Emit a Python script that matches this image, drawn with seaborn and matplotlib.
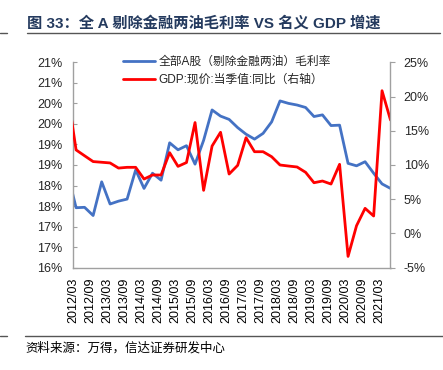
import matplotlib
matplotlib.use("Agg")
import matplotlib.pyplot as plt
import matplotlib.dates as mdates
from matplotlib.lines import Line2D
from matplotlib.ticker import FuncFormatter, FixedLocator
import numpy as np
import pandas as pd
import seaborn as sns

# ---------------- data ----------------
quarters = ["2011-12-31",
            "2012-03-31", "2012-06-30", "2012-09-30", "2012-12-31",
            "2013-03-31", "2013-06-30", "2013-09-30", "2013-12-31",
            "2014-03-31", "2014-06-30", "2014-09-30", "2014-12-31",
            "2015-03-31", "2015-06-30", "2015-09-30", "2015-12-31",
            "2016-03-31", "2016-06-30", "2016-09-30", "2016-12-31",
            "2017-03-31", "2017-06-30", "2017-09-30", "2017-12-31",
            "2018-03-31", "2018-06-30", "2018-09-30", "2018-12-31",
            "2019-03-31", "2019-06-30", "2019-09-30", "2019-12-31",
            "2020-03-31", "2020-06-30", "2020-09-30", "2020-12-31",
            "2021-03-31", "2021-06-30"]

gross_margin = [18.30,
                17.46, 17.47, 17.27, 18.09, 17.55, 17.62, 17.67, 18.38,
                17.93, 18.30, 18.13, 19.04, 18.87, 18.97, 18.52, 19.10,
                19.84, 19.69, 19.61, 19.41, 19.25, 19.13, 19.27, 19.55,
                20.06, 20.00, 19.96, 19.90, 19.68, 19.72, 19.46, 19.47,
                18.54, 18.48, 18.58, 18.30, 18.04, 17.93]

gdp_yoy = [20.5,
           12.2, 11.35, 10.5, 10.4, 10.3, 9.55, 9.66, 9.66,
           7.95, 8.54, 8.54, 11.8, 9.8, 10.36, 16.2, 6.3,
           12.77, 14.78, 8.68, 9.95, 13.99, 11.94, 11.94, 11.21,
           10.0, 9.85, 9.71, 8.93, 7.41, 7.66, 7.22, 10.10,
           -3.35, 1.13, 3.67, 2.55, 20.85, 16.57]

tick_labels = ["2012/03", "2012/09", "2013/03", "2013/09", "2014/03", "2014/09",
               "2015/03", "2015/09", "2016/03", "2016/09", "2017/03", "2017/09",
               "2018/03", "2018/09", "2019/03", "2019/09", "2020/03", "2020/09",
               "2021/03"]

left_ticks = [16, 16.5, 17, 17.5, 18, 18.5, 19, 19.5, 20, 20.5, 21]
right_ticks = [-5, 0, 5, 10, 15, 20, 25]

label_blue = "全部A股（剔除金融两油）毛利率"
label_red = "GDP:现价:当季值:同比（右轴）"
title = "图 33：全 A 剔除金融两油毛利率 VS 名义 GDP 增速"
source = "资料来源：万得，信达证券研发中心"

# ---------------- style ----------------
sns.set_style("white")
plt.rcParams["font.family"] = ["Liberation Sans", "Noto Sans CJK SC", "DejaVu Sans"]

df = pd.DataFrame({"date": pd.to_datetime(quarters),
                   "margin": gross_margin,
                   "gdp": gdp_yoy})

W, H = 443, 370
fig = plt.figure(figsize=(W / 100, H / 100), dpi=100)
fig.patch.set_facecolor("white")

x0, x1 = 73.3, 390.5
y0, y1 = 62.3, 267.7
ax = fig.add_axes([x0 / W, 1 - y1 / H, (x1 - x0) / W, (y1 - y0) / H])
ax2 = ax.twinx()

blue = "#4472C4"
red = "#FF0000"
sns.lineplot(data=df, x="date", y="margin", ax=ax, color=blue, linewidth=2.0,
             label=label_blue, legend=False)
sns.lineplot(data=df, x="date", y="gdp", ax=ax2, color=red, linewidth=2.0,
             label=label_red, legend=False)

ax.set_xlim(pd.Timestamp("2012-03-01"), pd.Timestamp("2021-06-30"))
ax.set_ylim(16, 21)
ax2.set_ylim(-5, 25)

tick_dates = [mdates.date2num(pd.Timestamp(t.replace("/", "-") + "-01")) for t in tick_labels]
ax.xaxis.set_major_locator(FixedLocator(tick_dates))
ax.set_xticklabels(tick_labels, rotation=90, fontsize=9, color="#000000")

def half_up(v, pos):
    return "%d%%" % int(np.floor(v + 0.5 + 1e-9))

ax.set_yticks(left_ticks)
ax.yaxis.set_major_formatter(FuncFormatter(half_up))
ax2.set_yticks(right_ticks)
ax2.yaxis.set_major_formatter(FuncFormatter(lambda v, p: "%d%%" % v))

ax.set_xlabel("")
ax.set_ylabel("")
ax2.set_ylabel("")

gray = "#A0A0A0"
for a in (ax, ax2):
    for s in a.spines.values():
        s.set_color(gray)
        s.set_linewidth(1.0)
    a.spines["top"].set_visible(False)
ax.spines["right"].set_visible(False)
ax2.spines["left"].set_visible(False)
ax2.spines["bottom"].set_visible(False)

ax.tick_params(axis="x", direction="in", length=3, color=gray, pad=7, labelsize=9)
ax.tick_params(axis="y", direction="in", length=3, color=gray, pad=8, labelsize=9)
ax2.tick_params(axis="y", direction="out", length=3.5, color=gray, pad=6, labelsize=9)
ax.grid(False)
ax2.grid(False)

handles = [Line2D([0], [0], color=blue, lw=2.0), Line2D([0], [0], color=red, lw=2.0)]
fig.legend(handles, [label_blue, label_red], loc="upper left",
           bbox_to_anchor=(123 / W, 1 - 56 / H), frameon=False,
           borderaxespad=0, borderpad=0, handlelength=2.7, handletextpad=0.3,
           labelspacing=0.5, prop={"family": ["Liberation Sans", "Noto Sans CJK SC"], "size": 8.5})

# title & source
fig.text(27 / W, 1 - 23 / H, title, fontsize=11, fontweight="bold", color="#243A5E",
         va="center", ha="left", family=["Liberation Sans", "Noto Sans CJK SC"])
fig.add_artist(Line2D([27 / W, 440 / W], [1 - 33 / H, 1 - 33 / H], color="#555555", lw=1.0))
fig.add_artist(Line2D([0, 7 / W], [1 - 33 / H, 1 - 33 / H], color="#555555", lw=1.0))
fig.add_artist(Line2D([25 / W, 1.0], [1 - 336 / H, 1 - 336 / H], color="#555555", lw=1.0))
fig.add_artist(Line2D([0, 7 / W], [1 - 336 / H, 1 - 336 / H], color="#555555", lw=1.0))
fig.text(25 / W, 1 - 348 / H, source, fontsize=9, color="#000000", va="center", ha="left",
         family=["Noto Sans CJK SC"])

fig.savefig("out.png", dpi=100, facecolor="white")
